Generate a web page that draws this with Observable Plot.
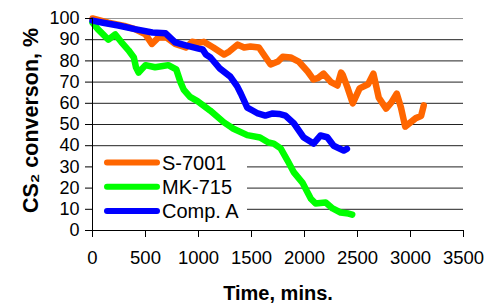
<!DOCTYPE html>
<html>
<head>
<meta charset="utf-8">
<script src="https://cdn.jsdelivr.net/npm/d3@7"></script>
<script src="https://cdn.jsdelivr.net/npm/@observablehq/plot@0.6"></script>
<style>
  html, body { margin: 0; padding: 0; background: #fff; }
  #wrap { position: relative; width: 487px; height: 304px; overflow: hidden; }
  #legend { position: absolute; left: 0; top: 0; }
</style>
</head>
<body>
<div id="wrap"></div>
<script>
// ---- data ----
const seriesNames = ["S-7001", "MK-715", "Comp. A"];
const seriesColors = ["#FF6600", "#00FF00", "#0000FF"];

const s7001Time = [0,150,300,400,500,560,620,700,780,880,940,1000,1050,1140,1240,1290,1370,1430,1490,1570,1615,1680,1750,1795,1870,1945,2030,2085,2130,2180,2250,2310,2345,2360,2405,2455,2520,2600,2650,2700,2770,2820,2870,2910,2950,3000,3050,3100,3125];
const s7001Conv = [100,98,96.5,95,92.5,88,91,91,88,86.3,89,88.5,89,86.3,83,84.4,87.7,86.3,86.8,86.3,83,78.3,79.7,82,81.6,79.7,75,71.2,72,74,70,68.4,74.5,73.5,67.5,60,67,69,74,62.7,57.5,60.4,64.6,58,49,51,53,54,59];

const mk715Time = [0,50,100,150,215,270,340,390,410,435,500,590,650,715,790,830,860,920,990,1110,1240,1330,1460,1580,1660,1710,1775,1840,1900,1980,2060,2105,2150,2200,2265,2340,2415,2450];
const mk715Conv = [98,95,92.5,90,92.5,89,85,81.6,77,74.5,78,77,77.5,78,76,70,66.5,63,61,56.6,51,48,45,43.9,41.5,41,38.7,33,27.4,22.6,15,12.7,13,13.2,10.4,8.5,8,7.5];

const compATime = [0,100,244,400,565,690,780,880,1000,1040,1070,1113,1200,1300,1365,1400,1460,1510,1560,1630,1700,1760,1820,1900,1990,2085,2150,2215,2275,2370,2400];
const compAConv = [99,98,96.7,95,93.4,93,88.7,87.3,85.8,85.4,83,81.6,76.5,72.6,68,64.5,58,56.6,55.2,54.2,55.2,55,54.2,50.5,44,41,44.8,44,40,37.7,38.5];

const xTicks = [0,500,1000,1500,2000,2500,3000,3500];
const yTicks = [0,10,20,30,40,50,60,70,80,90,100];

const xTitle = "Time, mins.";
const yTitle = "CS\u2082 converson, %";

// ---- build table ----
const rows = [];
[[s7001Time, s7001Conv], [mk715Time, mk715Conv], [compATime, compAConv]].forEach(([t, c], i) => {
  t.forEach((v, j) => rows.push({series: seriesNames[i], time: v, conv: c[j]}));
});

const font = "'Liberation Sans', Arial, sans-serif";

const chart = Plot.plot({
  width: 487,
  height: 304,
  marginLeft: 92,
  marginRight: 24,
  marginTop: 18,
  marginBottom: 74,
  style: {fontFamily: font, fontSize: "18px", color: "#000", background: "#fff", overflow: "visible"},
  x: {domain: [0, 3500]},
  y: {domain: [0, 100]},
  color: {domain: seriesNames, range: seriesColors},
  marks: [
    Plot.gridY(yTicks.filter(d => d > 0 && d < 100), {stroke: "#222", strokeOpacity: 1}),
    Plot.gridY([100], {stroke: "#999", strokeOpacity: 1}),
    Plot.line(rows, {x: "time", y: "conv", z: "series", stroke: "series", strokeWidth: 6.5,
      strokeLinejoin: "round", strokeLinecap: "round", curve: "linear"}),
    Plot.ruleX([0], {stroke: "#000"}),
    Plot.ruleY([0], {stroke: "#000"}),
    Plot.axisY(yTicks, {tickSize: 7, tickPadding: 6, label: null, fontSize: 18, stroke: "#000"}),
    Plot.axisX(xTicks, {tickSize: 7, tickPadding: 13, label: null, fontSize: 18.5, stroke: "#000", tickFormat: d3.format("d")}),
    Plot.text([xTitle], {frameAnchor: "bottom", dy: 69, fontWeight: "bold", fontSize: 20, fill: "#000"}),
    Plot.text([yTitle], {frameAnchor: "left", dx: -61, dy: -4, rotate: -90, textAnchor: "middle", fontWeight: "bold", fontSize: 21.5, fill: "#000"})
  ]
});

const wrap = document.getElementById("wrap");
wrap.appendChild(chart);

// ---- legend (inside plot area, lower left) ----
const leg = d3.select(wrap).append("svg")
  .attr("id", "legend")
  .attr("width", 487).attr("height", 304)
  .style("pointer-events", "none");
const g = leg.append("g").attr("transform", "translate(93,150)");
g.append("rect").attr("width", 154).attr("height", 78).attr("fill", "#fff");
seriesNames.forEach((name, i) => {
  const cy = 12.5 + i * 24.3;
  g.append("line").attr("x1", 14).attr("x2", 64).attr("y1", cy).attr("y2", cy)
    .attr("stroke", seriesColors[i]).attr("stroke-width", 6).attr("stroke-linecap", "round");
  g.append("text").attr("x", 69).attr("y", cy).attr("dy", "0.36em")
    .attr("font-family", font).attr("font-size", 20).attr("fill", "#000").text(name);
});
</script>
</body>
</html>
